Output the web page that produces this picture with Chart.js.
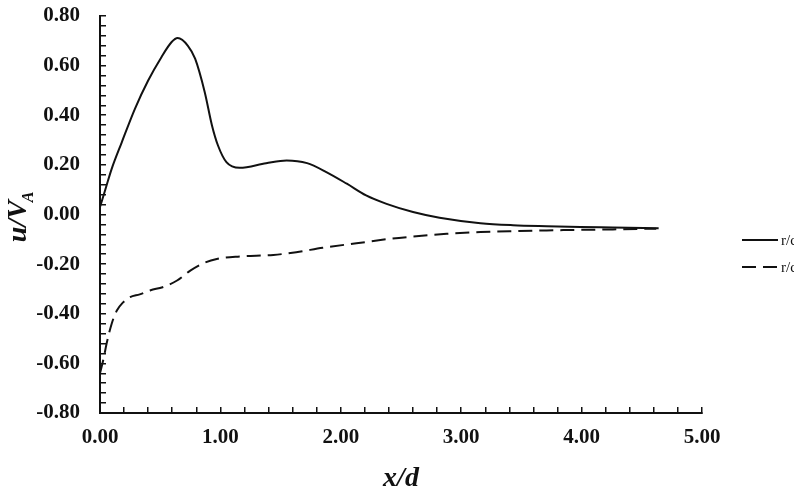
<!DOCTYPE html>
<html>
<head>
<meta charset="utf-8">
<script src="https://cdn.jsdelivr.net/npm/chart.js@4/dist/chart.umd.min.js"></script>
<style>
  html, body { margin: 0; padding: 0; background: #fff; }
</style>
</head>
<body>
<canvas id="chart" width="794" height="496"></canvas>
<script>
// values
const solidX = [0, 0.05, 0.097, 0.18, 0.29, 0.40, 0.51, 0.595, 0.645, 0.73, 0.79, 0.87, 0.93, 0.98, 1.05, 1.16, 1.38, 1.55, 1.72, 1.88, 2.05, 2.21, 2.38, 2.60, 2.82, 3.16, 3.43, 3.71, 3.99, 4.26, 4.64];
const solidY = [0.03, 0.11, 0.184, 0.29, 0.426, 0.54, 0.634, 0.695, 0.711, 0.68, 0.628, 0.493, 0.359, 0.278, 0.211, 0.188, 0.207, 0.218, 0.207, 0.171, 0.124, 0.077, 0.043, 0.01, -0.013, -0.035, -0.043, -0.047, -0.05, -0.052, -0.055];
const dashedX = [0, 0.03, 0.055, 0.097, 0.14, 0.19, 0.25, 0.33, 0.42, 0.52, 0.64, 0.75, 0.86, 0.97, 1.16, 1.44, 1.63, 1.85, 2.13, 2.41, 2.60, 2.88, 3.16, 3.43, 3.71, 3.99, 4.26, 4.62];
const dashedY = [-0.64, -0.58, -0.52, -0.44, -0.387, -0.355, -0.333, -0.322, -0.305, -0.293, -0.266, -0.226, -0.196, -0.179, -0.169, -0.163, -0.152, -0.134, -0.116, -0.098, -0.089, -0.078, -0.071, -0.067, -0.064, -0.062, -0.06, -0.057];
const seriesLabels = ['r/d = 0.00', 'r/d = 0.50'];
const xRange = [0, 5];
const yRange = [-0.8, 0.8];

const serif = '"Liberation Serif", "Times New Roman", serif';
const tickFont = { family: serif, size: 21, weight: 'bold' };

function toPoints(xs, ys) {
  return xs.map((x, i) => ({ x: x, y: ys[i] }));
}

function majorLabel(v, every) {
  const r = v / every;
  return Math.abs(r - Math.round(r)) < 1e-6 ? (Math.round(v * 100) / 100).toFixed(2) : '';
}

// y title needs a subscript, legend sits right of the plot
const extras = {
  id: 'extras',
  afterDraw(chart) {
    const c = chart.ctx;
    c.save();
    c.fillStyle = '#111';
    c.translate(26, 216);
    c.rotate(-Math.PI / 2);
    c.font = 'italic bold 28px ' + serif;
    const w = c.measureText('u/V').width;
    c.font = 'italic bold 16px ' + serif;
    const sw = c.measureText('A').width;
    let x0 = -(w + sw) / 2;
    c.font = 'italic bold 28px ' + serif;
    c.fillText('u/V', x0, 0);
    c.font = 'italic bold 16px ' + serif;
    c.fillText('A', x0 + w - 2, 7);
    c.restore();

    chart.data.datasets.forEach((ds, i) => {
      const y = 240 + i * 27;
      c.save();
      c.strokeStyle = ds.borderColor;
      c.lineWidth = ds.borderWidth;
      c.setLineDash(ds.borderDash || []);
      c.beginPath();
      c.moveTo(742, y);
      c.lineTo(778, y);
      c.stroke();
      c.fillStyle = '#111';
      c.font = '15px ' + serif;
      c.textBaseline = 'middle';
      c.fillText(ds.label, 781, y + 1);
      c.restore();
    });
  }
};

new Chart(document.getElementById('chart'), {
  type: 'scatter',
  data: {
    datasets: [{
      label: seriesLabels[0],
      data: toPoints(solidX, solidY),
      showLine: true,
      borderColor: '#111',
      borderWidth: 2,
      pointRadius: 0,
      cubicInterpolationMode: 'monotone'
    }, {
      label: seriesLabels[1],
      data: toPoints(dashedX, dashedY),
      showLine: true,
      borderColor: '#111',
      borderWidth: 2,
      borderDash: [14, 7],
      pointRadius: 0,
      cubicInterpolationMode: 'monotone'
    }]
  },
  options: {
    responsive: false,
    animation: false,
    layout: { padding: { top: 0, right: 92, left: 0, bottom: 0 } },
    plugins: {
      legend: { display: false },
      tooltip: { enabled: false }
    },
    scales: {
      x: {
        type: 'linear',
        min: xRange[0],
        max: xRange[1],
        afterFit: s => { s.height = 83; },
        border: { display: true, color: '#111', width: 2 },
        grid: { drawOnChartArea: false, drawTicks: true, tickLength: -6, color: '#111', lineWidth: 1.5 },
        ticks: {
          stepSize: 0.2,
          maxTicksLimit: 100,
          autoSkip: false,
          maxRotation: 0,
          padding: 18,
          color: '#111',
          font: tickFont,
          callback: v => majorLabel(v, 1)
        },
        title: {
          display: true,
          text: 'x/d',
          color: '#111',
          font: { family: serif, size: 28, weight: 'bold', style: 'italic' },
          padding: { top: 0, bottom: 0 }
        }
      },
      y: {
        type: 'linear',
        min: yRange[0],
        max: yRange[1],
        afterFit: s => {
          s.width = 100;
          // tick padding also pads the axis ends; keep the plot top at 16px
          s.paddingTop = 16;
          s.paddingBottom = 0;
        },
        border: { display: true, color: '#111', width: 2 },
        grid: { drawOnChartArea: false, drawTicks: true, tickLength: -6, color: '#111', lineWidth: 1.5 },
        ticks: {
          stepSize: 0.04,
          maxTicksLimit: 100,
          autoSkip: false,
          padding: 26,
          color: '#111',
          font: tickFont,
          callback: v => majorLabel(v, 0.2)
        }
      }
    }
  },
  plugins: [extras]
});
</script>
</body>
</html>
